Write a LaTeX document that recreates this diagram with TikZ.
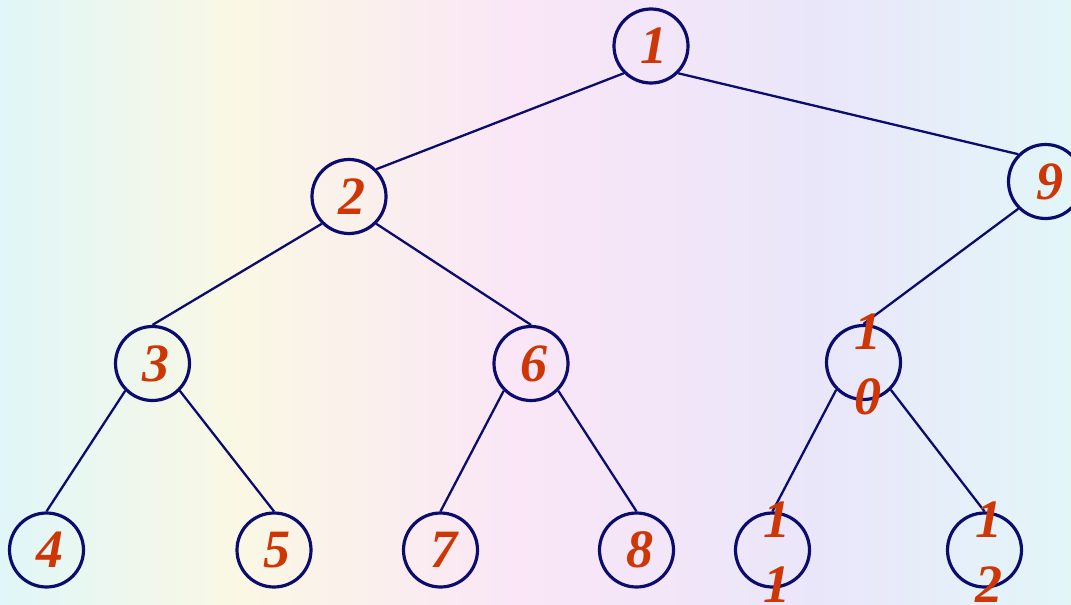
\documentclass[tikz,border=0pt]{standalone}
\usepackage{fontspec}
\setmainfont{Liberation Serif}
\definecolor{navy}{RGB}{12,12,110}
\definecolor{numred}{RGB}{206,54,6}
\definecolor{bgA}{RGB}{224,246,248}
\definecolor{bgB}{RGB}{250,248,228}
\definecolor{bgC}{RGB}{250,230,246}
\definecolor{bgD}{RGB}{234,230,250}
\definecolor{bgE}{RGB}{226,246,248}
\pgfdeclarehorizontalshading{bgshade}{100bp}{
  color(0bp)=(bgA);
  color(25bp)=(bgA);
  color(36bp)=(bgB);
  color(49bp)=(bgC);
  color(63bp)=(bgD);
  color(75bp)=(bgE);
  color(100bp)=(bgE)}
\tikzset{
  vtx/.style={circle, draw=navy, line width=3.2pt, minimum size=74pt, inner sep=0pt},
  num/.style={text=numred, font=\fontsize{54}{65}\selectfont\bfseries\itshape, align=center, inner sep=0pt},
  edge/.style={draw=navy, line width=2.3pt}
}
\begin{document}
\begin{tikzpicture}[x=1pt,y=-1pt]
\useasboundingbox (0,0) rectangle (1071,605);
\clip (0,0) rectangle (1071,605);
\shade[shading=bgshade] (0,0) rectangle (1071,605);

\node[vtx] (n1)  at (651,46)    {};
\node[vtx] (n2)  at (349,196.5) {};
\node[vtx] (n9)  at (1045.5,181.5) {};
\node[vtx] (n3)  at (152.5,363.5) {};
\node[vtx] (n6)  at (531,363.5) {};
\node[vtx] (n10) at (863.5,362.5) {};
\node[vtx] (n4)  at (46.5,550) {};
\node[vtx] (n5)  at (274,550) {};
\node[vtx] (n7)  at (440.5,550) {};
\node[vtx] (n8)  at (636.5,550) {};
\node[vtx] (n11) at (772.5,550) {};
\node[vtx] (n12) at (984.5,550) {};

\draw[edge] (n1.south west) -- (n2.north east);
\draw[edge] (n1.south east) -- (n9.north west);
\draw[edge] (n2.south west) -- (n3.north);
\draw[edge] (n2.south east) -- (n6.north);
\draw[edge] (n3.south west) -- (n4.north);
\draw[edge] (n3.south east) -- (n5.north);
\draw[edge] (n6.south west) -- (n7.north);
\draw[edge] (n6.south east) -- (n8.north);
\draw[edge] (n9.south west) -- (n10.north);
\draw[edge] (n10.south west) -- (n11.north);
\draw[edge] (n10.south east) -- (n12.north);

\node[num] (t1)  at ([xshift=3pt]n1)  {1};
\node[num] (t2)  at ([xshift=3pt]n2)  {2};
\node[num] (t9)  at ([xshift=4pt]n9)  {9};
\node[num] (t3)  at ([xshift=3pt]n3)  {3};
\node[num] (t6)  at ([xshift=3pt]n6)  {6};
\node[num] (t10) at ([xshift=4pt,yshift=-2pt]n10) {1\\0};
\node[num] (t4)  at ([xshift=3pt]n4)  {4};
\node[num] (t5)  at ([xshift=3pt]n5)  {5};
\node[num] (t7)  at ([xshift=3pt]n7)  {7};
\node[num] (t8)  at ([xshift=3pt]n8)  {8};
\node[num] (t11) at ([xshift=4pt,yshift=-2pt]n11) {1\\1};
\node[num] (t12) at ([xshift=4pt,yshift=-2pt]n12) {1\\2};
\end{tikzpicture}
\end{document}
